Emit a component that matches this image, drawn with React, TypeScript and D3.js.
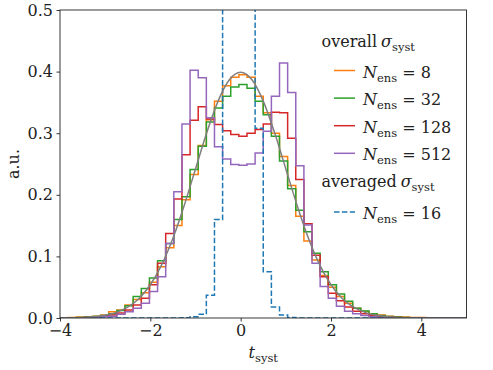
import React, { useEffect, useRef } from 'react';
import * as d3 from 'd3';

// histogram: 50 bins between -4 and 5 (density)
const binRange = [-4, 5];
const nBins = 50;

// overall sigma_syst, N_ens = 8
const overall8 = [
  0.0005, 0.001, 0.0015, 0.002, 0.003, 0.005, 0.010, 0.013, 0.021, 0.030,
  0.041, 0.058, 0.083, 0.114, 0.150, 0.192, 0.233, 0.280, 0.322, 0.352,
  0.377, 0.391, 0.395, 0.391, 0.360, 0.333, 0.300, 0.262, 0.215, 0.165,
  0.125, 0.094, 0.069, 0.050, 0.035, 0.024, 0.016, 0.011, 0.007, 0.005,
  0.003, 0.002, 0.0015, 0.001, 0.0008, 0.0005, 0.0004, 0.0003, 0.0002, 0.0001,
];
// N_ens = 32
const overall32 = [
  0.0003, 0.0005, 0.001, 0.0015, 0.0025, 0.004, 0.007, 0.012, 0.020, 0.035,
  0.048, 0.065, 0.093, 0.121, 0.160, 0.197, 0.241, 0.279, 0.318, 0.341,
  0.360, 0.375, 0.379, 0.373, 0.352, 0.330, 0.295, 0.255, 0.210, 0.175,
  0.140, 0.105, 0.075, 0.054, 0.039, 0.027, 0.016, 0.0115, 0.007, 0.004,
  0.0025, 0.0015, 0.001, 0.0005, 0.0003, 0.0002, 0.0001, 0, 0, 0,
];
// N_ens = 128
const overall128 = [
  0.0001, 0.0002, 0.0005, 0.001, 0.002, 0.003, 0.005, 0.008, 0.013, 0.021,
  0.032, 0.054, 0.089, 0.137, 0.193, 0.265, 0.321, 0.343, 0.323, 0.314,
  0.304, 0.298, 0.295, 0.300, 0.306, 0.315, 0.334, 0.333, 0.292, 0.225,
  0.153, 0.102, 0.067, 0.040, 0.028, 0.018, 0.011, 0.007, 0.004, 0.0025,
  0.0015, 0.001, 0.0005, 0.0003, 0.0002, 0.0001, 0, 0, 0, 0,
];
// N_ens = 512
const overall512 = [
  0, 0.0001, 0.0002, 0.0005, 0.001, 0.002, 0.003, 0.006, 0.010, 0.016,
  0.024, 0.043, 0.067, 0.121, 0.205, 0.315, 0.402, 0.390, 0.325, 0.278,
  0.258, 0.249, 0.248, 0.250, 0.268, 0.303, 0.360, 0.414, 0.366, 0.247,
  0.151, 0.089, 0.051, 0.032, 0.019, 0.011, 0.007, 0.004, 0.002, 0.001,
  0.0005, 0.0002, 0.0001, 0, 0, 0, 0, 0, 0, 0,
];
// averaged sigma_syst, N_ens = 16
const averaged16 = [
  0, 0, 0, 0, 0, 0, 0, 0, 0, 0,
  0, 0, 0, 0, 0, 0.0005, 0.002, 0.006, 0.037, 0.160,
  0.85, 1.45, 1.55, 0.95, 0.308, 0.075, 0.018, 0.005, 0.001, 0,
  0, 0, 0, 0, 0, 0, 0, 0, 0, 0,
  0, 0, 0, 0, 0, 0, 0, 0, 0, 0,
];

// reference curve (grey), read every 0.25
const curveX = [
  -4, -3.75, -3.5, -3.25, -3, -2.75, -2.5, -2.25, -2, -1.75, -1.5, -1.25, -1,
  -0.75, -0.5, -0.25, 0, 0.25, 0.5, 0.75, 1, 1.25, 1.5, 1.75, 2, 2.25, 2.5,
  2.75, 3, 3.25, 3.5, 3.75, 4, 4.25, 4.5, 4.75, 5,
];
const curveY = [
  0.0001, 0.0004, 0.0009, 0.002, 0.0044, 0.0091, 0.0175, 0.0317, 0.054, 0.0863,
  0.1295, 0.1827, 0.242, 0.3011, 0.3521, 0.3867, 0.3989, 0.3867, 0.3521, 0.3011,
  0.242, 0.1827, 0.1295, 0.0863, 0.054, 0.0317, 0.0175, 0.0091, 0.0044, 0.002,
  0.0009, 0.0004, 0.0001, 0.00005, 0.00002, 0.00001, 0,
];

const xTicks = [-4, -2, 0, 2, 4];
const yTicks = [0, 0.1, 0.2, 0.3, 0.4, 0.5];

const overallSeries = [
  { n: '8', values: overall8, color: '#ff7f0e' },
  { n: '32', values: overall32, color: '#2ca02c' },
  { n: '128', values: overall128, color: '#d62728' },
  { n: '512', values: overall512, color: '#9467bd' },
];
const averagedSeries = [{ n: '16', values: averaged16, color: '#1f77b4' }];

const FONT = '"DejaVu Serif", serif';

const App = () => {
  const svgRef = useRef<SVGSVGElement>(null);

  useEffect(() => {
    const svg = d3.select(svgRef.current);
    svg.selectAll('*').remove();
    const width = 493;
    const height = 370;
    const left = 60, right = 466.5, top = 10, bottom = 318;

    const x = d3.scaleLinear().domain([-4, 5]).range([left, right]);
    const y = d3.scaleLinear().domain([0, 0.5]).range([bottom, top]);

    const edges = d3.range(nBins + 1).map(i => binRange[0] + (i * (binRange[1] - binRange[0])) / nBins);

    svg.append('defs').append('clipPath').attr('id', 'plotclip')
      .append('rect').attr('x', left).attr('y', top)
      .attr('width', right - left).attr('height', bottom - top);

    const plot = svg.append('g').attr('clip-path', 'url(#plotclip)');

    const step = d3.line<[number, number]>()
      .x(d => x(d[0]))
      .y(d => y(d[1]))
      .curve(d3.curveStepAfter);

    const stepPoints = (values: number[]) => {
      const pts: [number, number][] = [[edges[0], 0]];
      values.forEach((v, i) => pts.push([edges[i], v]));
      pts.push([edges[nBins], 0]);
      return pts;
    };

    overallSeries.forEach(s => {
      plot.append('path')
        .attr('d', step(stepPoints(s.values)))
        .attr('fill', 'none')
        .attr('stroke', s.color)
        .attr('stroke-width', 1.5);
    });

    averagedSeries.forEach(s => {
      plot.append('path')
        .attr('d', step(stepPoints(s.values)))
        .attr('fill', 'none')
        .attr('stroke', s.color)
        .attr('stroke-width', 1.5)
        .attr('stroke-dasharray', '5.5,2.4');
    });

    // grey reference curve
    const line = d3.line<number>()
      .x((_, i) => x(curveX[i]))
      .y(d => y(d))
      .curve(d3.curveMonotoneX);
    plot.append('path')
      .attr('d', line(curveY))
      .attr('fill', 'none')
      .attr('stroke', '#7f7f7f')
      .attr('stroke-width', 1.5);

    // axes
    const fmt = (d: number) => (d < 0 ? '\u2212' + Math.abs(d) : String(d));
    const xAxis = svg.append('g')
      .attr('transform', `translate(0, ${bottom})`)
      .call(d3.axisBottom(x).tickValues(xTicks).tickSize(3.5).tickPadding(3.5).tickFormat(d => fmt(+d)));
    const yAxis = svg.append('g')
      .attr('transform', `translate(${left}, 0)`)
      .call(d3.axisLeft(y).tickValues(yTicks).tickSize(3.5).tickPadding(3.5).tickFormat(d => d3.format('.1f')(+d)));
    [xAxis, yAxis].forEach(a => {
      a.select('.domain').remove();
      a.selectAll('line').attr('stroke', '#222').attr('stroke-width', 0.9);
      a.selectAll('text').attr('font-family', FONT).attr('font-size', 16).attr('fill', '#222');
    });

    svg.append('rect')
      .attr('x', left).attr('y', top)
      .attr('width', right - left).attr('height', bottom - top)
      .attr('fill', 'none').attr('stroke', '#222').attr('stroke-width', 0.9);

    // axis labels
    const xl = svg.append('text')
      .attr('x', (left + right) / 2).attr('y', 358)
      .attr('text-anchor', 'middle')
      .attr('font-family', FONT).attr('font-size', 16).attr('fill', '#222');
    xl.append('tspan').attr('font-style', 'italic').text('t');
    xl.append('tspan').attr('font-size', 11.5).attr('dy', 4).text('syst');

    svg.append('text')
      .attr('transform', `translate(19, ${(top + bottom) / 2}) rotate(-90)`)
      .attr('text-anchor', 'middle')
      .attr('font-family', FONT).attr('font-size', 16).attr('fill', '#222')
      .text('a.u.');

    // legend
    const lg = svg.append('g').attr('font-family', FONT).attr('font-size', 16).attr('fill', '#222');
    const header = (txt: string, yb: number) => {
      const t = lg.append('text').attr('x', 321.5).attr('y', yb);
      t.append('tspan').text(txt);
      t.append('tspan').attr('dx', 4).attr('font-style', 'italic').text('σ');
      t.append('tspan').attr('font-size', 11.5).attr('dy', 4).text('syst');
    };
    const entry = (s: { n: string; color: string }, yb: number, dashed: boolean) => {
      lg.append('line')
        .attr('x1', 334).attr('x2', 355)
        .attr('y1', yb - 7).attr('y2', yb - 7)
        .attr('stroke', s.color).attr('stroke-width', 1.5)
        .attr('stroke-dasharray', dashed ? '5.5,2.4' : null);
      const t = lg.append('text').attr('x', 363).attr('y', yb);
      t.append('tspan').attr('font-style', 'italic').text('N');
      t.append('tspan').attr('font-size', 11.5).attr('dy', 4).text('ens');
      t.append('tspan').attr('dy', -4).text(' = ' + s.n);
    };
    header('overall', 47);
    overallSeries.forEach((s, i) => entry(s, 77.5 + i * 27.6, false));
    header('averaged', 187);
    averagedSeries.forEach((s, i) => entry(s, 219 + i * 27.6, true));

    svg.attr('width', width).attr('height', height);
  }, []);

  return (
    <svg
      ref={svgRef}
      width={493}
      height={370}
      style={{ position: 'absolute', left: 0, top: 0, background: '#fff' }}
    />
  );
};

export default App;
